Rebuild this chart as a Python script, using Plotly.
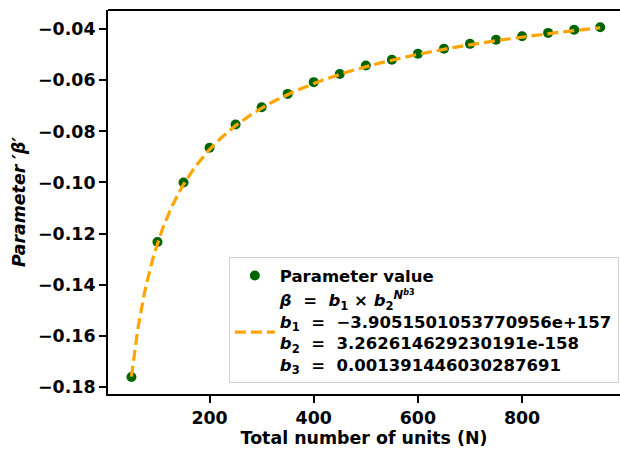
import numpy as np
import plotly.graph_objects as go

# data
N_units = [50, 100, 150, 200, 250, 300, 350, 400, 450, 500,
           550, 600, 650, 700, 750, 800, 850, 900, 950]
beta_vals = [-0.1762, -0.1233, -0.1000, -0.0864, -0.0773, -0.0705, -0.0653,
             -0.0607, -0.0575, -0.0542, -0.0519, -0.0496, -0.0476, -0.0457,
             -0.0441, -0.0427, -0.0414, -0.0402, -0.0392]

# fit parameters (from legend)
b1 = -3.9051501053770956e+157
b2 = 3.262614629230191e-158
b3 = 0.001391446030287691

x_tick_vals = [200, 400, 600, 800]
y_tick_vals = [-0.18, -0.16, -0.14, -0.12, -0.10, -0.08, -0.06, -0.04]

N_fit = np.linspace(min(N_units), max(N_units), 400)
beta_fit = b1 * np.exp(np.log(b2) * N_fit ** b3)

FONT = "DejaVu Sans"
FS = 17.4
FSL = 16.5
nb = "\u00a0"

fit_name = (
    f"<i>β</i>{nb}{nb}={nb}{nb}<i>b</i><sub>1</sub>{nb}×{nb}<i>b</i><sub>2</sub>"
    f"<sup><i>N</i><sup><i>b</i>3</sup></sup>"
    f"<br><i>b</i><sub>1</sub>{nb}{nb}={nb}{nb}−3.9051501053770956e+157"
    f"<br><i>b</i><sub>2</sub>{nb}{nb}={nb}{nb}3.262614629230191e-158"
    f"<br><i>b</i><sub>3</sub>{nb}{nb}={nb}{nb}0.001391446030287691"
)

fig = go.Figure()
fig.add_trace(go.Scatter(
    x=N_units, y=beta_vals, mode="markers", name="Parameter value",
    marker=dict(color="#006400", size=10, line=dict(width=0)),
))
fig.add_trace(go.Scatter(
    x=N_fit, y=beta_fit, mode="lines", name=fit_name,
    line=dict(color="#FFA500", width=3.2, dash="11px,5px"),
))

fig.update_layout(
    width=620, height=453,
    margin=dict(l=108, r=0, t=10, b=59),
    paper_bgcolor="white", plot_bgcolor="white",
    font=dict(family=FONT, size=FS, color="black", weight="bold"),
    showlegend=True,
    legend=dict(
        x=0.236, y=0.356, xanchor="left", yanchor="top",
        bgcolor="rgba(255,255,255,0.8)", bordercolor="#d0d0d0", borderwidth=1,
        font=dict(family=FONT, size=FSL, color="black", weight="bold"),
        valign="middle", tracegroupgap=5, itemwidth=40,
    ),
    xaxis=dict(
        range=[5, 988], tickvals=x_tick_vals,
        showgrid=False, zeroline=False,
        showline=True, linecolor="black", linewidth=2,
        ticks="outside", ticklen=7, tickwidth=2, tickcolor="black",
        tickfont=dict(family=FONT, size=FS, weight="bold"),
        title=dict(text="Total number of units (N)", standoff=5,
                   font=dict(family=FONT, size=FS, weight="bold")),
    ),
    yaxis=dict(
        range=[-0.18285, -0.03244], tickvals=y_tick_vals, tickformat=".2f",
        showgrid=False, zeroline=False,
        showline=True, linecolor="black", linewidth=2,
        ticks="outside", ticklen=7, tickwidth=2, tickcolor="black",
        tickfont=dict(family=FONT, size=FS, weight="bold"),
        title=dict(text="<i>Parameter ′β′</i>", standoff=8,
                   font=dict(family=FONT, size=FS, weight="bold")),
    ),
    shapes=[dict(type="line", xref="paper", yref="paper", x0=0, x1=1, y0=1, y1=1,
                 line=dict(color="black", width=2))],
)

fig.write_html("out.html")
